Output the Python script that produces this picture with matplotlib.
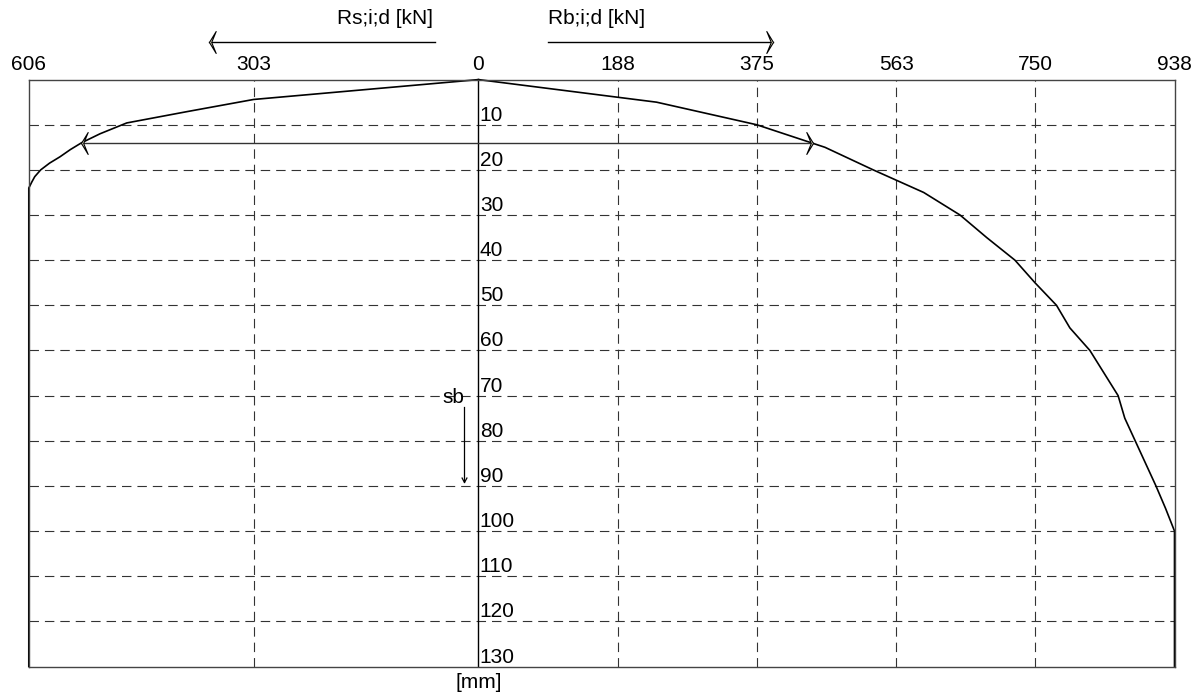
import matplotlib.pyplot as plt
from matplotlib.path import Path

plt.rcParams['font.family'] = ['Liberation Sans', 'DejaVu Sans']
plt.rcParams['font.size'] = 15
plt.rcParams['lines.scale_dashes'] = False

# axis values
x_ticks = [-606, -303, 0, 188, 375, 563, 750, 938]
x_tick_labels = ['606', '303', '0', '188', '375', '563', '750', '938']
x_grid = [-303, 188, 375, 563, 750]
depth_grid = [10, 20, 30, 40, 50, 60, 70, 80, 90, 100, 110, 120]
depth_labels = [10, 20, 30, 40, 50, 60, 70, 80, 90, 100, 110, 120, 130]

# shaft resistance Rs;i;d (drawn to the left)
rs_depth = [0, 4.4, 7.1, 9.6, 12, 14, 15.5, 17.1, 18.5, 20, 21.5, 22.7, 23.7, 24, 130]
rs_value = [0, 303, 393, 474, 510, 535, 550, 564, 578, 590, 598, 602, 605, 606, 606]

# base resistance Rb;i;d (drawn to the right)
rb_depth = [0, 5, 10, 15, 20, 25, 30, 35, 40, 45, 50, 55, 60, 65, 70, 75,
            80, 85, 90, 95, 100, 130]
rb_value = [0, 240, 375, 467, 532, 600, 649, 685, 723, 750, 779, 797, 824,
            843, 862, 871, 885, 899, 913, 926, 938, 938]

# marked level
arrow_depth = 14
arrow_rs = 535
arrow_rb = 451

# arrow head shapes (tip at origin)
head_left = Path([(0, 0), (6.7, 11), (2.2, 0), (6.7, -11), (0, 0)],
                 [Path.MOVETO, Path.LINETO, Path.LINETO, Path.LINETO, Path.CLOSEPOLY])
head_right = Path([(0, 0), (-6.7, 11), (-2.2, 0), (-6.7, -11), (0, 0)],
                  [Path.MOVETO, Path.LINETO, Path.LINETO, Path.LINETO, Path.CLOSEPOLY])
head_down = Path([(-2.7, 5), (0, 0), (2.7, 5)])
head_kw = dict(markersize=15.8, markerfacecolor='#f3efd2', markeredgecolor='k',
               markeredgewidth=0.8, clip_on=False)

W, H = 1201, 695
fig = plt.figure(figsize=(W / 100, H / 100), dpi=100)
ax = fig.add_axes([28.8 / W, (H - 666.5) / H, (1174.5 - 28.8) / W, (666.5 - 79.6) / H])
ax.set_xlim(x_ticks[0], x_ticks[-1])
ax.set_ylim(130, 0)

for s in ax.spines.values():
    s.set_linewidth(1.0)
    s.set_color('#444444')

ax.set_yticks([])
ax.set_xticks(x_ticks)
ax.set_xticklabels(x_tick_labels)
ax.tick_params(axis='x', top=True, labeltop=True, bottom=False, labelbottom=False,
               length=0, pad=4)

# dashed grid
for d in depth_grid:
    ax.axhline(d, color='#333333', lw=0.8, dashes=(6.8, 4.3))
for x in x_grid:
    ax.axvline(x, color='#333333', lw=0.8, dashes=(6.8, 4.3))
ax.axvline(0, color='k', lw=1.0)

# depth labels next to the zero line
for d in depth_labels:
    ax.annotate(str(d), (0, d), xytext=(1, 0), textcoords='offset points',
                ha='left', va='bottom')

# curves
ax.plot([-v for v in rs_value], rs_depth, color='k', lw=1.2, clip_on=False)
ax.plot(rb_value, rb_depth, color='k', lw=1.2, clip_on=False)

# double arrow at marked level
ax.plot([-arrow_rs, arrow_rb], [arrow_depth, arrow_depth], color='#333333', lw=1.0)
ax.plot([-arrow_rs], [arrow_depth], marker=head_left, **head_kw)
ax.plot([arrow_rb], [arrow_depth], marker=head_right, **head_kw)

# direction arrows above the chart
top_y = -8.3
ax.plot([-59, -363], [top_y, top_y], color='k', lw=1.0, clip_on=False)
ax.plot([-363], [top_y], marker=head_left, **head_kw)
ax.plot([94, 397], [top_y, top_y], color='k', lw=1.0, clip_on=False)
ax.plot([397], [top_y], marker=head_right, **head_kw)
ax.text(-61, -13.6, 'Rs;i;d [kN]', ha='right', va='center')
ax.text(94, -13.6, 'Rb;i;d [kN]', ha='left', va='center')

# sb arrow
ax.text(-34, 70.4, 'sb', ha='center', va='center')
ax.plot([-19, -19], [72.6, 89.2], color='k', lw=0.9)
ax.plot([-19], [89.2], marker=head_down, markersize=7.2, markerfacecolor='none',
        markeredgecolor='k', markeredgewidth=0.9)

ax.text(0, 133.6, '[mm]', ha='center', va='center', clip_on=False)

fig.savefig('out.png', dpi=100)
